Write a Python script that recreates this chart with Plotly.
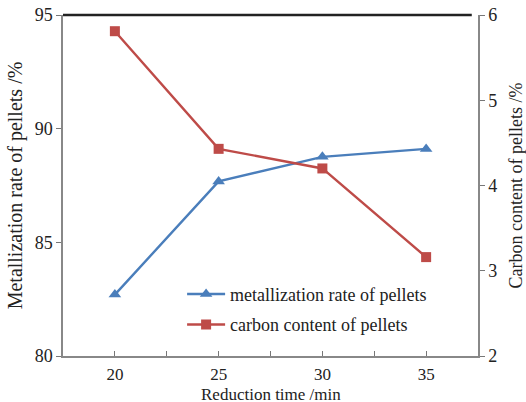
import plotly.graph_objects as go

time_min = [20, 25, 30, 35]
metallization = [82.7, 87.68, 88.76, 89.11]
carbon = [5.81, 4.43, 4.20, 3.16]

x_tickvals = [20, 22.5, 25, 27.5, 30, 32.5, 35]
x_ticktext = ["20", "", "25", "", "30", "", "35"]
left_ticks = [80, 85, 90, 95]
right_ticks = [2, 3, 4, 5, 6]

BLUE = "#4A7EBB"
RED = "#BE4B48"
FONT = "Liberation Serif"

fig = go.Figure()
fig.add_trace(go.Scatter(
    x=time_min, y=metallization, mode="lines+markers",
    name="metallization rate of pellets", legendgroup="a",
    line=dict(color=BLUE, width=2.4),
    marker=dict(symbol="triangle-up", size=11, color=BLUE),
    yaxis="y"))
fig.add_trace(go.Scatter(
    x=time_min, y=carbon, mode="lines+markers",
    name="carbon content of pellets", legendgroup="b",
    line=dict(color=RED, width=2.4),
    marker=dict(symbol="square", size=10, color=RED),
    yaxis="y2"))

fig.update_layout(
    template="none",
    width=526, height=402,
    margin=dict(l=63, r=48, t=15, b=46),
    paper_bgcolor="white", plot_bgcolor="white",
    font=dict(family=FONT, size=18, color="#222"),
    showlegend=True,
    legend=dict(x=0.287, y=0.235, xanchor="left", yanchor="top",
                bgcolor="rgba(0,0,0,0)", font=dict(size=18, family=FONT),
                traceorder="grouped", tracegroupgap=4, itemwidth=38),
    xaxis=dict(range=[17.5, 37.5], tickvals=x_tickvals, ticktext=x_ticktext,
               ticks="inside", ticklen=5, tickcolor="#777",
               tickfont=dict(size=17, family=FONT), ticklabelstandoff=2,
               showline=True, linecolor="#888", linewidth=1.5,
               showgrid=False, zeroline=False),
    yaxis=dict(range=[80, 95], tickvals=left_ticks,
               ticks="outside", ticklen=5, tickcolor="#777",
               tickfont=dict(size=18, family=FONT),
               showline=True, linecolor="#888", linewidth=1.5,
               showgrid=False, zeroline=False,
               title=dict(text="Metallization rate of pellets /%", standoff=7,
                          font=dict(size=20, family=FONT))),
    yaxis2=dict(range=[2, 6], tickvals=right_ticks, overlaying="y", side="right",
                ticks="outside", ticklen=5, tickcolor="#777",
                tickfont=dict(size=18, family=FONT),
                showline=True, linecolor="#888", linewidth=1.5,
                showgrid=False, zeroline=False,
                title=dict(text="Carbon content of pellets /%", standoff=14,
                           font=dict(size=18, family=FONT))),
    shapes=[dict(type="line", xref="paper", yref="paper", x0=0, x1=0.985,
                 y0=1, y1=1, line=dict(color="#222", width=2.5))],
    annotations=[dict(text="Reduction time /min", xref="paper", yref="paper",
                      x=0.5, y=-0.08, xanchor="center", yanchor="top",
                      showarrow=False, font=dict(size=17, family=FONT))],
)

fig.write_html("out.html")
